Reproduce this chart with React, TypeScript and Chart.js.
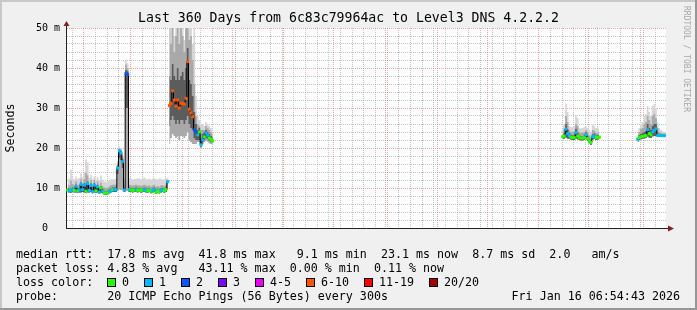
import React, { useEffect, useRef } from 'react';
import { Chart, registerables } from 'chart.js';

Chart.register(...registerables);

const MONO = '"DejaVu Sans Mono", "Liberation Mono", monospace';

const TITLE = 'Last 360 Days from 6c83c79964ac to Level3 DNS 4.2.2.2';
const Y_LABEL = 'Seconds';
const WATERMARK = 'RRDTOOL / TOBI OETIKER';
const RTT_LINE = 'median rtt:  17.8 ms avg  41.8 ms max   9.1 ms min  23.1 ms now  8.7 ms sd  2.0   am/s';
const LOSS_LINE = 'packet loss: 4.83 % avg   43.11 % max  0.00 % min  0.11 % now';
const LOSS_TITLE = 'loss color:';
const PROBE_LINE = 'probe:       20 ICMP Echo Pings (56 Bytes) every 300s';
const DATE_LINE = 'Fri Jan 16 06:54:43 2026';

// x axis: days since graph start (Jan 21 2025 06:54:43)
const X_MAX = 360;
const MONTH_STARTS = [10.71, 38.71, 69.71, 99.71, 130.71, 160.71, 191.71, 222.71, 252.71, 283.71, 313.71, 344.71];
const FIRST_WEEK = 3.71;
const X_LABELS = ['March 2025', 'May 2025', 'July 2025', 'September 2025', 'November 2025', 'January 2026'];
const X_LABEL_POS = [53.71, 114.71, 175.71, 237.71, 298.71, 359.71];

// y axis (ms)
const Y_MAX = 50;
const Y_MINOR = 2;
const Y_MAJOR = 10;

// loss legend
const LOSS_LABELS = ['0', '1', '2', '3', '4-5', '6-10', '11-19', '20/20'];
const LOSS_UPPER = [0, 1, 2, 3, 5, 10, 19, 20];
const LOSS_COLORS = ['#26ff00', '#00b8ff', '#0059ff', '#7e00ff', '#e600ff', '#ff5500', '#ff0000', '#a10000'];

// data runs: one value per day, each run starting at the given day
const RUN_START = [1, 62, 298, 343];

const MEDIAN_1 = [
  9.5, 9.4, 9.3, 9.6, 9.4, 10.4, 9.3, 9.5, 10.9, 9.6,
  10.7, 9.2, 11.1, 9.4, 10.6, 9.1, 10.7, 9.3, 10.3, 9.0,
  10.0, 9.2, 8.8, 8.7, 8.8, 9.1, 9.4, 9.6, 9.6, 9.6,
  15.0, 19.3, 18.7, 16.6, 9.5, 38.6, 38.4, 9.6, 9.5, 9.4,
  9.5, 9.6, 9.4, 9.5, 9.3, 9.5, 9.6, 9.4, 9.3, 9.5,
  9.2, 9.4, 9.6, 8.9, 9.3, 9.1, 9.4, 9.5, 9.3, 9.6,
  11.6,
];
const LOSS_1 = [
  0, 1, 1, 1, 0, 1, 0, 1, 1, 1,
  1, 0, 1, 1, 1, 1, 1, 0, 1, 1,
  0, 1, 0, 0, 0, 1, 1, 0, 1, 1,
  1, 1, 1, 1, 1, 2, 2, 1, 0, 0,
  0, 1, 0, 0, 0, 0, 1, 1, 0, 0,
  0, 1, 1, 0, 0, 0, 1, 1, 0, 0,
  1,
];
const LO_1 = [
  8.9, 8.9, 8.8, 9.0, 8.9, 8.9, 8.8, 8.9, 8.9, 9.0,
  8.9, 8.8, 8.9, 8.9, 9.0, 8.7, 8.9, 8.8, 8.9, 8.6,
  8.8, 8.7, 8.4, 8.3, 8.4, 8.6, 8.9, 9.0, 9.0, 9.0,
  9.3, 9.6, 9.5, 9.4, 9.0, 9.2, 9.3, 9.0, 9.0, 8.9,
  9.0, 9.0, 8.9, 9.0, 8.8, 9.0, 9.0, 8.9, 8.8, 9.0,
  8.7, 8.9, 9.0, 8.5, 8.8, 8.6, 8.9, 9.0, 8.8, 9.0,
  9.6,
];
const INNER_LO_1 = [
  8.9, 8.9, 8.8, 9.0, 8.9, 8.9, 8.8, 8.9, 8.9, 9.0,
  8.9, 8.8, 8.9, 8.9, 9.0, 8.7, 8.9, 8.8, 8.9, 8.6,
  8.8, 8.7, 8.4, 8.3, 8.4, 8.6, 8.9, 9.0, 9.0, 9.0,
  13.5, 17.5, 17.0, 15.0, 9.0, 30.0, 30.0, 9.0, 9.0, 8.9,
  9.0, 9.0, 8.9, 9.0, 8.8, 9.0, 9.0, 8.9, 8.8, 9.0,
  8.7, 8.9, 9.0, 8.5, 8.8, 8.6, 8.9, 9.0, 8.8, 9.0,
  9.6,
];
const INNER_1 = [
  10.0, 9.9, 9.8, 10.1, 9.9, 10.9, 9.8, 10.0, 11.4, 10.1,
  11.2, 9.7, 11.6, 9.9, 11.1, 9.6, 11.2, 9.8, 10.8, 9.5,
  10.5, 9.7, 9.3, 9.2, 9.3, 9.6, 9.9, 10.1, 10.1, 10.1,
  15.6, 19.6, 19.2, 17.2, 10.0, 39.5, 39.2, 10.1, 10.0, 9.9,
  10.0, 10.1, 9.9, 10.0, 9.8, 10.0, 10.1, 9.9, 9.8, 10.0,
  9.7, 9.9, 10.1, 9.5, 9.8, 9.6, 9.9, 10.0, 9.8, 10.1,
  12.0,
];
const MID_1 = [
  10.8, 10.7, 11.8, 11.0, 10.6, 11.7, 10.6, 10.9, 12.2, 11.0,
  12.2, 13.8, 13.2, 10.8, 12.0, 10.5, 12.0, 10.6, 11.6, 10.3,
  11.4, 10.4, 10.1, 10.0, 10.1, 10.4, 10.7, 10.8, 10.8, 10.9,
  16.2, 19.9, 19.5, 17.8, 10.8, 40.8, 40.0, 10.8, 10.7, 10.6,
  10.7, 10.8, 10.6, 10.7, 10.5, 10.7, 10.8, 10.6, 10.5, 10.7,
  10.4, 10.6, 10.8, 10.3, 10.5, 10.3, 10.6, 10.7, 10.5, 10.8,
  12.2,
];
const OUTER_1 = [
  12.2, 12.4, 14.6, 12.6, 12.1, 12.9, 12.3, 12.5, 13.6, 12.7,
  13.9, 17.2, 16.4, 12.5, 13.3, 12.1, 12.9, 12.1, 12.7, 11.9,
  13.1, 12.0, 11.6, 11.5, 11.7, 11.9, 12.1, 12.2, 12.1, 12.3,
  16.8, 20.4, 20.0, 18.4, 12.3, 42.0, 41.2, 12.5, 12.3, 12.1,
  12.4, 12.2, 12.5, 12.3, 12.1, 12.4, 12.6, 12.3, 12.2, 12.4,
  12.1, 12.3, 12.5, 12.2, 12.1, 12.4, 12.3, 12.1, 12.2, 12.5,
  12.8,
];

const MEDIAN_2 = [
  30.6, 31.2, 34.3, 32.0, 30.5, 32.0, 30.0, 31.2, 31.2, 31.0,
  32.4, 41.6, 29.7, 28.8, 27.8, 24.5, 24.0, 23.3, 24.0, 20.8,
  22.0, 22.8, 23.7, 23.2, 22.5, 22.2, 21.8,
];
const LOSS_2 = [
  8, 8, 7, 8, 9, 8, 7, 8, 8, 9,
  8, 7, 8, 9, 8, 2, 2, 1, 0, 1,
  1, 0, 1, 1, 0, 0, 0,
];
const LO_2 = [
  21.0, 22.5, 23.5, 23.0, 22.5, 23.0, 22.0, 23.0, 23.0, 22.5,
  23.0, 24.0, 22.0, 21.5, 21.0, 21.0, 21.0, 21.5, 21.5, 20.0,
  21.0, 21.5, 21.8, 21.6, 21.2, 21.0, 20.8,
];
const INNER_LO_2 = [
  25.5, 27.0, 28.0, 27.0, 26.0, 27.0, 26.0, 27.0, 27.0, 26.0,
  27.0, 28.0, 26.0, 25.0, 24.5, 22.5, 22.0, 22.0, 22.0, 20.3,
  21.5, 22.0, 22.5, 22.3, 21.8, 21.6, 21.3,
];
const INNER_2 = [
  38.0, 37.0, 41.0, 38.0, 37.0, 40.0, 37.0, 38.0, 39.0, 37.0,
  40.0, 45.0, 37.0, 36.0, 33.0, 29.0, 26.0, 24.5, 25.0, 22.5,
  23.5, 24.0, 24.5, 24.0, 23.5, 23.0, 22.8,
];
const MID_2 = [
  50.0, 46.0, 55.0, 44.0, 48.0, 52.0, 46.0, 50.0, 48.0, 44.0,
  52.0, 55.0, 47.0, 48.0, 42.0, 36.0, 28.0, 26.0, 25.5, 24.5,
  24.5, 24.5, 25.5, 25.0, 24.5, 24.0, 23.5,
];
const OUTER_2 = [
  55, 55, 55, 48, 55, 55, 55, 55, 55, 47,
  55, 55, 55, 55, 46, 50, 33, 28, 27, 26,
  26, 25.5, 26.5, 26, 25.5, 25, 24.5,
];

const MEDIAN_3 = [
  22.8, 23.0, 24.7, 23.6, 23.1, 22.7, 22.6, 22.6, 23.8, 23.0,
  22.6, 22.5, 22.5, 22.6, 23.3, 22.4, 21.7, 21.4, 22.8, 23.0,
  22.6, 22.7, 22.7,
];
const LOSS_3 = [
  0, 0, 1, 1, 1, 0, 0, 0, 1, 0,
  0, 0, 0, 0, 1, 0, 0, 0, 1, 1,
  0, 0, 0,
];
const LO_3 = [
  22.2, 22.4, 22.6, 22.4, 22.3, 22.1, 22.0, 22.0, 22.4, 22.2,
  22.0, 21.9, 21.9, 22.0, 22.3, 21.8, 21.2, 20.8, 22.1, 22.3,
  22.0, 22.1, 22.1,
];
const INNER_3 = [
  23.3, 23.6, 26.0, 24.6, 23.7, 23.2, 23.1, 23.1, 24.8, 23.8,
  23.1, 23.0, 23.0, 23.1, 23.9, 23.0, 22.2, 21.9, 23.4, 23.6,
  23.1, 23.2, 23.2,
];
const MID_3 = [
  24.3, 24.8, 28.0, 26.5, 24.5, 24.0, 24.0, 24.2, 26.0, 25.5,
  24.0, 23.8, 23.9, 24.0, 24.5, 24.0, 23.2, 22.8, 24.5, 24.3,
  23.8, 23.9, 23.7,
];
const OUTER_3 = [
  25.5, 26.0, 31.0, 29.0, 25.5, 25.3, 25.2, 25.5, 28.2, 27.5,
  25.0, 24.9, 25.0, 25.2, 25.3, 25.0, 24.5, 24.0, 25.8, 25.5,
  25.0, 25.2, 24.8,
];

const MEDIAN_4 = [
  22.2, 22.6, 22.8, 22.9, 23.0, 23.1, 24.6, 23.6, 23.3, 24.0,
  24.4, 24.8, 23.2, 23.1, 23.1, 23.1, 23.1, 23.1,
];
const LOSS_4 = [
  1, 0, 0, 0, 0, 0, 1, 0, 0, 1,
  1, 1, 1, 1, 1, 1, 1, 1,
];
const LO_4 = [
  21.5, 22.0, 22.2, 22.3, 22.4, 22.5, 22.8, 22.6, 22.5, 22.9,
  23.0, 23.0, 22.8, 22.8, 22.8, 22.8, 22.8, 22.8,
];
const INNER_4 = [
  22.7, 23.2, 23.5, 23.7, 24.0, 24.2, 26.0, 25.0, 24.5, 25.5,
  26.0, 26.0, 23.8, 23.5, 23.4, 23.4, 23.4, 23.4,
];
const MID_4 = [
  23.3, 24.0, 24.8, 25.0, 26.0, 26.5, 28.0, 27.0, 26.0, 28.0,
  28.5, 27.5, 25.0, 24.0, 23.8, 23.6, 23.6, 23.5,
];
const OUTER_4 = [
  24.0, 25.0, 26.0, 26.5, 28.0, 28.5, 30.5, 29.0, 28.0, 30.5,
  31.0, 30.0, 26.5, 25.0, 24.5, 24.2, 24.0, 24.0,
];

// styles
const BACK = '#f0f0f0';
const CANVAS = '#ffffff';
const SHADE_A = '#c8c8c8';
const SHADE_B = '#969696';
const GRID_MINOR = 'rgba(140,140,140,0.5)';
const GRID_MAJOR = 'rgba(224,80,80,0.5)';
const AXIS_COLOR = '#202020';
const ARROW_COLOR = '#802020';
const MEDIAN_COLOR = '#000000';
const SMOKE_OUTER = '#d6d6d6';
const SMOKE_MID = '#a9a9a9';
const SMOKE_INNER = '#5c5c5c';
const WATERMARK_COLOR = '#a8a8a8';

type Key = 'median' | 'lo' | 'innerLo' | 'inner' | 'mid' | 'outer';
const RUNS: Record<Key | 'loss', number[]>[] = [
  { median: MEDIAN_1, loss: LOSS_1, lo: LO_1, innerLo: INNER_LO_1, inner: INNER_1, mid: MID_1, outer: OUTER_1 },
  { median: MEDIAN_2, loss: LOSS_2, lo: LO_2, innerLo: INNER_LO_2, inner: INNER_2, mid: MID_2, outer: OUTER_2 },
  { median: MEDIAN_3, loss: LOSS_3, lo: LO_3, innerLo: LO_3, inner: INNER_3, mid: MID_3, outer: OUTER_3 },
  { median: MEDIAN_4, loss: LOSS_4, lo: LO_4, innerLo: LO_4, inner: INNER_4, mid: MID_4, outer: OUTER_4 },
];

function series(key: Key) {
  const out: { x: number; y: number | null; loss?: number }[] = [];
  RUNS.forEach((run, ri) => {
    const start = RUN_START[ri];
    if (ri > 0) out.push({ x: start - 0.5, y: null });
    run[key].forEach((v, i) => out.push({ x: start + i, y: v, loss: run.loss[i] }));
  });
  return out;
}

function lossColor(n?: number) {
  if (n === undefined || n === null) return 'rgba(0,0,0,0)';
  const i = LOSS_UPPER.findIndex((m) => n <= m);
  return LOSS_COLORS[i < 0 ? LOSS_COLORS.length - 1 : i];
}

const isMonth = (v: number) => MONTH_STARTS.some((m) => Math.abs(m - v) < 0.01);

const rrdDecor = {
  id: 'rrdDecor',
  beforeDraw(chart: any) {
    const { ctx, chartArea: a, width, height } = chart;
    ctx.save();
    ctx.fillStyle = BACK;
    ctx.fillRect(0, 0, width, height);
    ctx.fillStyle = SHADE_A;
    ctx.fillRect(0, 0, width, 2);
    ctx.fillRect(0, 0, 2, height);
    ctx.fillStyle = SHADE_B;
    ctx.fillRect(0, height - 2, width, 2);
    ctx.fillRect(width - 2, 0, 2, height);
    ctx.fillStyle = CANVAS;
    ctx.fillRect(a.left, a.top, a.right - a.left, a.bottom - a.top);
    ctx.restore();
  },
  afterDraw(chart: any) {
    const { ctx, chartArea: a } = chart;
    ctx.save();
    const ax = Math.round(a.left) + 0.5;
    const ay = Math.round(a.bottom) + 0.5;
    ctx.strokeStyle = AXIS_COLOR;
    ctx.lineWidth = 1;
    ctx.beginPath();
    ctx.moveTo(ax, a.top);
    ctx.lineTo(ax, a.top - 4);
    ctx.moveTo(a.right, ay);
    ctx.lineTo(a.right + 3, ay);
    ctx.stroke();
    ctx.fillStyle = ARROW_COLOR;
    ctx.beginPath();
    ctx.moveTo(ax, a.top - 7);
    ctx.lineTo(ax - 3, a.top - 2);
    ctx.lineTo(ax + 3, a.top - 2);
    ctx.closePath();
    ctx.fill();
    ctx.beginPath();
    ctx.moveTo(a.right + 8, ay);
    ctx.lineTo(a.right + 2, ay - 3);
    ctx.lineTo(a.right + 2, ay + 3);
    ctx.closePath();
    ctx.fill();

    ctx.fillStyle = '#000';
    ctx.textBaseline = 'middle';
    ctx.textAlign = 'center';
    ctx.font = `13.2px ${MONO}`;
    ctx.fillText(TITLE, chart.width / 2, 19);

    ctx.save();
    ctx.translate(11, (a.top + a.bottom) / 2);
    ctx.rotate(-Math.PI / 2);
    ctx.font = `11.66px ${MONO}`;
    ctx.fillText(Y_LABEL, 0, 0);
    ctx.restore();

    ctx.save();
    ctx.translate(686, 59);
    ctx.rotate(Math.PI / 2);
    ctx.font = `8px ${MONO}`;
    ctx.fillStyle = WATERMARK_COLOR;
    ctx.fillText(WATERMARK, 0, 0);
    ctx.restore();

    ctx.textAlign = 'left';
    ctx.font = `11.66px ${MONO}`;
    ctx.fillStyle = '#000';
    ctx.fillText(RTT_LINE, 16, 254.5);
    ctx.fillText(LOSS_LINE, 16, 268.5);
    ctx.fillText(LOSS_TITLE, 16, 282.5);
    let x = 16 + ctx.measureText(LOSS_TITLE + '  ').width;
    LOSS_LABELS.forEach((lab, i) => {
      const bx = Math.round(x);
      ctx.fillStyle = LOSS_COLORS[i];
      ctx.fillRect(bx, 278, 9, 9);
      ctx.strokeStyle = '#000';
      ctx.lineWidth = 1;
      ctx.strokeRect(bx + 0.5, 278.5, 8, 8);
      ctx.fillStyle = '#000';
      ctx.fillText(lab, bx + 15, 282.5);
      x = bx + 15 + ctx.measureText(lab).width + 15.3;
    });
    ctx.fillText(PROBE_LINE, 16, 296.5);
    ctx.textAlign = 'right';
    ctx.fillText(DATE_LINE, 680, 296.5);
    ctx.restore();
  },
};

const bandLine = (data: any[], color: string, fillTarget: number | false) => ({
  data,
  borderWidth: 0,
  borderColor: 'rgba(0,0,0,0)',
  backgroundColor: color,
  pointRadius: 0,
  pointHoverRadius: 0,
  stepped: 'middle',
  fill: fillTarget,
  spanGaps: false,
});

export default function App() {
  const ref = useRef<HTMLCanvasElement>(null);
  useEffect(() => {
    document.body.style.margin = '0';
    const weekTicks: number[] = [];
    for (let v = FIRST_WEEK; v < X_MAX; v += 7) {
      if (!isMonth(v)) weekTicks.push(v);
    }
    const xGrid = [...weekTicks, ...MONTH_STARTS].sort((p, q) => p - q);
    const yGrid: number[] = [];
    for (let v = 0; v <= Y_MAX; v += Y_MINOR) yGrid.push(v);

    const chart = new Chart(ref.current as HTMLCanvasElement, {
      type: 'line',
      data: {
        datasets: [
          {
            data: series('median'),
            showLine: false,
            pointStyle: 'rect',
            pointRadius: 2.1,
            pointHoverRadius: 2.1,
            pointBorderWidth: 0,
            pointBackgroundColor: (c: any) => lossColor(c.raw && c.raw.loss),
            borderColor: 'rgba(0,0,0,0)',
          } as any,
          {
            data: series('median'),
            borderColor: MEDIAN_COLOR,
            borderWidth: 1,
            stepped: 'middle',
            pointRadius: 0,
            pointHoverRadius: 0,
            fill: false,
            spanGaps: false,
          } as any,
          bandLine(series('inner'), SMOKE_INNER, 3) as any,
          bandLine(series('innerLo'), SMOKE_INNER, false) as any,
          bandLine(series('mid'), SMOKE_MID, 5) as any,
          bandLine(series('lo'), SMOKE_MID, false) as any,
          bandLine(series('outer'), SMOKE_OUTER, 7) as any,
          bandLine(series('lo'), SMOKE_OUTER, false) as any,
        ],
      },
      options: {
        animation: false,
        responsive: false,
        devicePixelRatio: 1,
        events: [],
        layout: { autoPadding: false, padding: { left: 0, top: 28, right: 31, bottom: 82 } },
        plugins: { legend: { display: false }, tooltip: { enabled: false }, title: { display: false } },
        elements: { line: { tension: 0 } },
        scales: {
          x: {
            type: 'linear',
            min: 0,
            max: X_MAX,
            position: 'bottom',
            afterBuildTicks: (s: any) => {
              s.ticks = xGrid.map((v) => ({ value: v }));
            },
            afterFit: (s: any) => {
              s.height = 0;
              s.paddingLeft = 0;
              s.paddingRight = 0;
            },
            grid: {
              color: (c: any) => (c.tick && isMonth(c.tick.value) ? GRID_MAJOR : GRID_MINOR),
              lineWidth: 1,
              drawTicks: false,
              tickLength: 0,
            },
            border: { display: true, color: AXIS_COLOR, width: 1, dash: [1, 1] },
            ticks: { display: false, autoSkip: false },
          },
          x2: {
            type: 'linear',
            min: 0,
            max: X_MAX,
            position: 'bottom',
            afterBuildTicks: (s: any) => {
              s.ticks = X_LABEL_POS.map((v) => ({ value: v }));
            },
            afterFit: (s: any) => {
              s.height = 0;
              s.paddingLeft = 0;
              s.paddingRight = 0;
            },
            grid: { display: false, drawTicks: false, tickLength: 0 },
            border: { display: false },
            ticks: {
              autoSkip: false,
              maxRotation: 0,
              minRotation: 0,
              padding: 4,
              color: '#000',
              font: { family: MONO, size: 10 },
              callback: (_v: any, i: number) => X_LABELS[i],
            },
          },
          y: {
            type: 'linear',
            min: 0,
            max: Y_MAX,
            afterBuildTicks: (s: any) => {
              s.ticks = yGrid.map((v) => ({ value: v }));
            },
            afterFit: (s: any) => {
              s.width = 66;
              s.paddingTop = 0;
              s.paddingBottom = 0;
            },
            grid: {
              color: (c: any) =>
                c.tick && Math.round(c.tick.value) % Y_MAJOR === 0 ? GRID_MAJOR : GRID_MINOR,
              lineWidth: 1,
              drawTicks: false,
              tickLength: 0,
            },
            border: { display: true, color: AXIS_COLOR, width: 1, dash: [1, 1] },
            ticks: {
              stepSize: Y_MINOR,
              autoSkip: false,
              padding: 6,
              color: '#000',
              font: { family: MONO, size: 10 },
              callback: (v: any) => {
                const n = Math.round(Number(v));
                if (n === 0) return '0  ';
                return n % Y_MAJOR === 0 ? `${n} m` : '';
              },
            },
          },
        },
      } as any,
      plugins: [rrdDecor],
    });
    return () => chart.destroy();
  }, []);

  return (
    <div style={{ position: 'fixed', left: 0, top: 0, width: 697, height: 310 }}>
      <canvas ref={ref} width={697} height={310} style={{ display: 'block', width: 697, height: 310 }} />
    </div>
  );
}
